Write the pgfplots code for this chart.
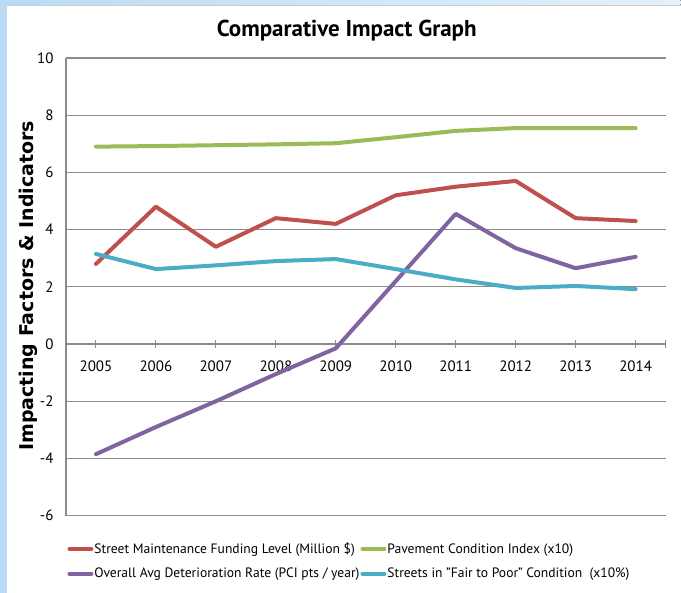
\documentclass[border=0pt]{standalone}
\usepackage{pgfplots}
\pgfplotsset{compat=1.18}
\usepackage{fontspec}
\setmainfont{PT Sans}
\newfontfamily\labelfont{DejaVu Sans}
\definecolor{cRed}{HTML}{C0504D}
\definecolor{cGreen}{HTML}{9BBB59}
\definecolor{cPurple}{HTML}{8064A2}
\definecolor{cCyan}{HTML}{4BACC6}
\definecolor{cGrid}{HTML}{8C8C8C}
\definecolor{cBlueA}{HTML}{BADBF5}
\definecolor{cBlueB}{HTML}{E4F1FB}
\begin{document}
\begin{tikzpicture}[x=1pt,y=1pt]
\fill[white] (0,0) rectangle (681,593);
\fill[left color=cBlueA, right color=cBlueB] (0,588) rectangle (681,593);
\draw[gray!40, line width=0.8pt] (7,587.6) -- (681,587.6);
\fill[cBlueA] (0,0) rectangle (7,593);
\node[font=\bfseries\fontsize{23}{26}\selectfont] at (347,562) {Comparative Impact Graph};
\node[rotate=90, font=\labelfont\bfseries\fontsize{19}{22}\selectfont] at (28,307) {Impacting Factors \& Indicators};
\begin{axis}[
  at={(66pt,77pt)}, anchor=south west,
  scale only axis, width=600pt, height=458pt,
  xmin=-0.5, xmax=9.5, ymin=-6, ymax=10,
  axis x line=middle, axis y line=left,
  axis line style={-, draw=cGrid, line width=1.2pt},
  ytick={-6,-4,...,10},
  xtick={0,...,9},
  xticklabels={2005,2006,2007,2008,2009,2010,2011,2012,2013,2014},
  extra x ticks={9.5}, extra x tick labels={},
  extra x tick style={grid=none},
  ymajorgrids,
  grid style={draw=cGrid, line width=1.2pt},
  major tick length=8pt, tick align=center,
  xtick style={draw=cGrid, line width=1pt},
  ytick style={draw=none},
  ticklabel style={font=\fontsize{15}{17}\selectfont},
  xticklabel style={yshift=-9pt},
  yticklabel style={xshift=-5pt},
  /pgf/number format/assume math mode=true,
  clip=false,
  legend columns=2,
  legend cell align=left,
  legend style={at={(0.472,-0.099)}, anchor=center, draw=none, fill=none,
    font=\fontsize{13.6}{15}\selectfont,
    nodes={inner xsep=1pt},
    /tikz/every odd column/.append style={column sep=0pt},
    row sep=9pt, inner sep=0pt},
  legend image code/.code={\draw[#1, line width=4pt] (0pt,0pt) -- (22pt,0pt);},
  every axis plot/.append style={line width=4pt, line join=round, line cap=round, no marks},
]
\addplot[cRed] coordinates {(0,2.8) (1,4.8) (2,3.4) (3,4.4) (4,4.2) (5,5.2) (6,5.5) (7,5.7) (8,4.4) (9,4.3)};
\addlegendentry{Street Maintenance Funding Level (Million \$)}
\addplot[cGreen] coordinates {(0,6.9) (1,6.92) (2,6.95) (3,6.98) (4,7.02) (5,7.23) (6,7.45) (7,7.55) (8,7.55) (9,7.55)};
\addlegendentry{Pavement Condition Index (x10)}
\addplot[cPurple] coordinates {(0,-3.85) (1,-2.9) (2,-2.0) (3,-1.05) (4,-0.15) (5,2.2) (6,4.55) (7,3.35) (8,2.65) (9,3.05)};
\addlegendentry{Overall Avg Deterioration Rate (PCI pts / year)}
\addplot[cCyan] coordinates {(0,3.15) (1,2.62) (2,2.75) (3,2.9) (4,2.97) (5,2.62) (6,2.26) (7,1.96) (8,2.03) (9,1.92)};
\addlegendentry{Streets in "Fair to Poor" Condition\ \ (x10\%)}
\end{axis}
\end{tikzpicture}
\end{document}
